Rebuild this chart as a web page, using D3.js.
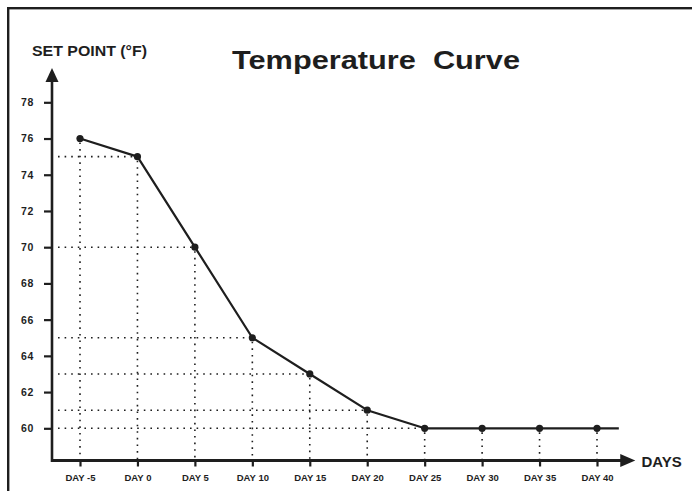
<!DOCTYPE html>
<html>
<head>
<meta charset="utf-8">
<script src="https://cdn.jsdelivr.net/npm/d3@7"></script>
<style>
  html, body { margin: 0; padding: 0; background: #fff; }
  svg { display: block; }
  text { font-family: "Liberation Sans", Arial, Helvetica, sans-serif; font-weight: bold; fill: #1e1e1e; }
</style>
</head>
<body>
<svg id="chart" width="692" height="491"></svg>
<script>
const categories = ["DAY -5", "DAY 0", "DAY 5", "DAY 10", "DAY 15", "DAY 20", "DAY 25", "DAY 30", "DAY 35", "DAY 40"];
const setPoints = [76, 75, 70, 65, 63, 61, 60, 60, 60, 60];
const yTicks = [60, 62, 64, 66, 68, 70, 72, 74, 76, 78];
const title = "Temperature  Curve";
const yTitle = "SET POINT (°F)";
const xTitle = "DAYS";

const svg = d3.select("#chart");
const ink = "#1e1e1e";

const axisX0 = 52, axisY0 = 460.5;
const x = d3.scalePoint().domain(categories).range([80, 597]);
const y = d3.scaleLinear().domain([60, 78]).range([428.3, 102.3]);

// frame
svg.append("rect").attr("x", 8.2).attr("y", 8.2).attr("width", 720).attr("height", 520)
  .attr("fill", "none").attr("stroke", ink).attr("stroke-width", 2.4);

// title
svg.append("text").attr("x", 232).attr("y", 68.5).attr("font-size", 25)
  .attr("textLength", 288).attr("lengthAdjust", "spacingAndGlyphs")
  .style("white-space", "pre").text(title);
svg.append("text").attr("x", 32).attr("y", 55.7).attr("font-size", 14.5)
  .attr("textLength", 115).attr("lengthAdjust", "spacingAndGlyphs")
  .text(yTitle);
svg.append("text").attr("x", 641.5).attr("y", 467.3).attr("font-size", 15)
  .text(xTitle);

const data = categories.map((c, i) => ({ c, v: setPoints[i] }));

// dotted guides
const guides = svg.append("g").attr("stroke", ink).attr("fill", "none")
  .attr("stroke-width", 1.6).attr("stroke-dasharray", "1.6,5");
data.forEach((d, i) => {
  guides.append("line").attr("x1", x(d.c)).attr("x2", x(d.c))
    .attr("y1", y(d.v) + 4).attr("y2", axisY0 - 1);
  if (i > 0 && (d.v !== setPoints[i - 1])) {
    guides.append("line").attr("x1", axisX0 + 6).attr("x2", x(d.c) - 3)
      .attr("y1", y(d.v)).attr("y2", y(d.v));
  }
});

// y axis
const yAxis = d3.axisLeft(y).tickValues(yTicks).tickSize(8).tickPadding(10).tickFormat(d3.format("d"));
const gy = svg.append("g").attr("transform", `translate(${axisX0},0)`).call(yAxis);
gy.select(".domain").remove();
gy.selectAll(".tick line").attr("stroke", ink).attr("stroke-width", 2.2);
gy.selectAll(".tick text").attr("font-size", 10.5).attr("letter-spacing", 0.6).attr("fill", ink)
  .attr("font-family", "Liberation Sans, Arial, sans-serif").attr("font-weight", "bold");

// x axis
const xAxis = d3.axisBottom(x).tickSize(6).tickPadding(8);
const gx = svg.append("g").attr("transform", `translate(0,${axisY0})`).call(xAxis);
gx.select(".domain").remove();
gx.selectAll(".tick line").attr("stroke", ink).attr("stroke-width", 2.2);
gx.selectAll(".tick text").attr("font-size", 9.5).attr("fill", ink)
  .attr("font-family", "Liberation Sans, Arial, sans-serif").attr("font-weight", "bold");

// axis lines + arrowheads
const xEnd = x(categories[categories.length - 1]) + x.step() * 0.44;
svg.append("line").attr("x1", axisX0).attr("x2", xEnd).attr("y1", axisY0).attr("y2", axisY0)
  .attr("stroke", ink).attr("stroke-width", 3);
svg.append("line").attr("x1", axisX0).attr("x2", axisX0).attr("y1", axisY0 + 1.5).attr("y2", 80)
  .attr("stroke", ink).attr("stroke-width", 2.6);
svg.append("path").attr("d", `M${xEnd - 2},${axisY0 - 6.5} L${xEnd + 13},${axisY0} L${xEnd - 2},${axisY0 + 6.5} Z`)
  .attr("fill", ink);
svg.append("path").attr("d", `M${axisX0 - 6.5},82 L${axisX0},68 L${axisX0 + 6.5},82 Z`).attr("fill", ink);

// curve
const lastX = x(categories[categories.length - 1]);
const linePts = data.map(d => [x(d.c), y(d.v)]);
linePts.push([lastX + x.step() * 0.38, y(setPoints[setPoints.length - 1])]);
svg.append("path").attr("d", d3.line()(linePts)).attr("fill", "none")
  .attr("stroke", ink).attr("stroke-width", 2.2).attr("stroke-linejoin", "round");

svg.append("g").selectAll("circle").data(data).join("circle")
  .attr("cx", d => x(d.c)).attr("cy", d => y(d.v)).attr("r", 3.6).attr("fill", ink);
</script>
</body>
</html>
